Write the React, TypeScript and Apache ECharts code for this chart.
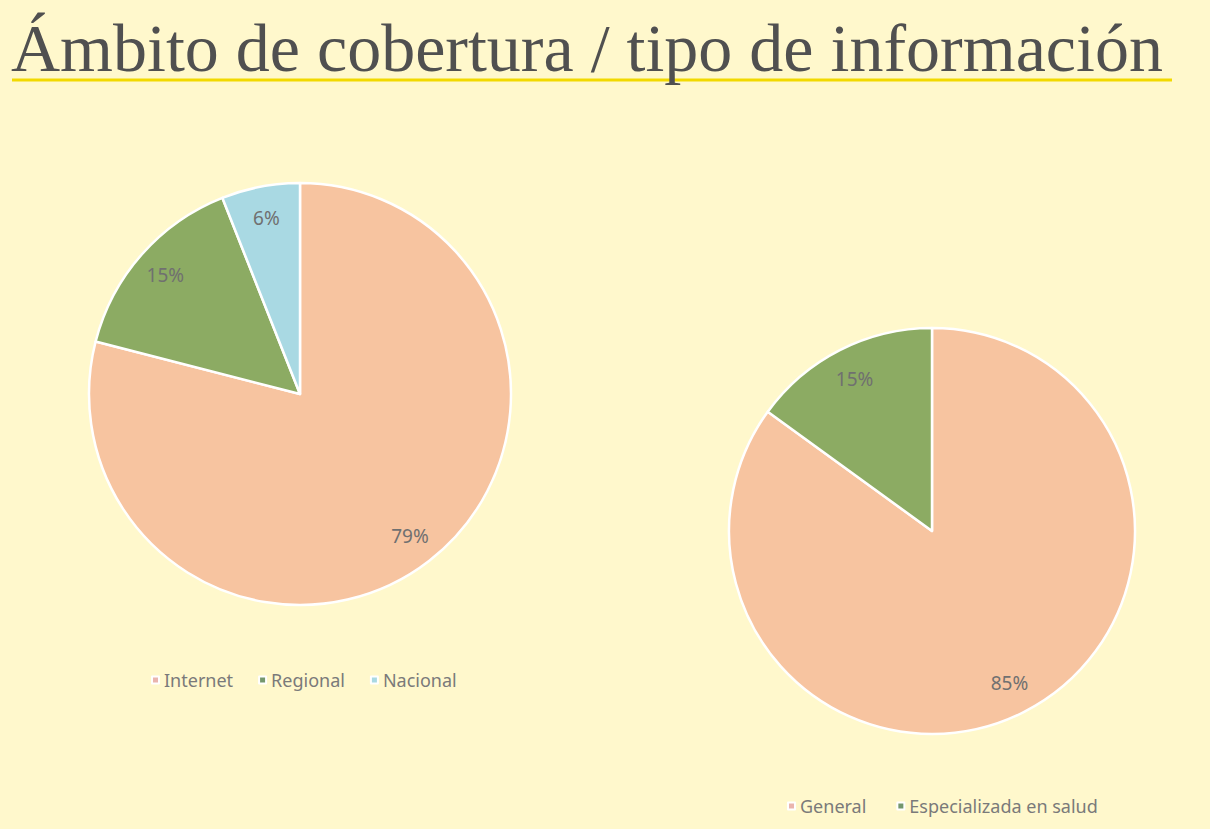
import React, { useEffect, useRef } from "react";
import * as echarts from "echarts";

const titleText = "Ámbito de cobertura / tipo de información";
const ambitoNames = ["Internet", "Regional", "Nacional"];
const ambitoValues = [79, 15, 6];
const ambitoColors = ["#f7c4a0", "#8cab63", "#a9d9e3"];
const ambitoLegendColors = ["#eab5ae", "#74976d", "#a9d9e3"];
const tipoNames = ["General", "Especializada en salud"];
const tipoValues = [85, 15];
const tipoColors = ["#f7c4a0", "#8cab63"];
const tipoLegendColors = ["#eab5ae", "#74976d"];

const BG = "#fff8cc";
const labelFont = "'Noto Sans', 'Open Sans', sans-serif";

function makePie(names: string[], values: number[], colors: string[], center: number[], r: number, r0label: number) {
  const data = names.map((n, i) => ({ name: n, value: values[i], itemStyle: { color: colors[i] } }));
  return [
    {
      type: "pie",
      center,
      radius: [0, r],
      startAngle: 90,
      clockwise: true,
      data,
      label: { show: false },
      labelLine: { show: false },
      itemStyle: { borderColor: "#ffffff", borderWidth: 2.5 },
      emphasis: { disabled: true },
      silent: true,
    },
    {
      type: "pie",
      center,
      radius: [r0label, r],
      startAngle: 90,
      clockwise: true,
      data: names.map((n, i) => ({ name: n, value: values[i], itemStyle: { color: "rgba(0,0,0,0)" } })),
      label: {
        show: true,
        position: "inside",
        formatter: "{c}%",
        color: "#707070",
        fontSize: 19,
        fontFamily: labelFont,
      },
      labelLine: { show: false },
      itemStyle: { borderWidth: 0 },
      emphasis: { disabled: true },
      silent: true,
      legendHoverLink: false,
    },
  ];
}

const legendText = { color: "#7a7a7a", fontSize: 18, fontFamily: labelFont };

export default function App() {
  const ref = useRef<HTMLDivElement>(null);
  useEffect(() => {
    document.body.style.margin = "0";
    document.body.style.background = BG;
    const chart = echarts.init(ref.current!, null, { renderer: "svg" });
    chart.setOption({
      animation: false,
      backgroundColor: BG,
      title: {
        text: titleText,
        left: 6,
        top: 9,
        textStyle: {
          fontFamily: "'Liberation Serif', 'DejaVu Serif', serif",
          fontWeight: "normal",
          fontSize: 68,
          color: "#505050",
        },
      },
      graphic: [
        {
          type: "line",
          shape: { x1: 12, y1: 80, x2: 1172, y2: 80 },
          style: { stroke: "#f2d900", lineWidth: 3 },
          silent: true,
        },
      ],
      legend: [
        {
          data: ambitoNames.map((n, i) => ({ name: n, itemStyle: { color: ambitoLegendColors[i] } })),
          left: 146,
          top: 666,
          icon: "rect",
          itemWidth: 7,
          itemHeight: 7,
          itemGap: 25,
          textStyle: legendText,
          selectedMode: false,
        },
        {
          data: tipoNames.map((n, i) => ({ name: n, itemStyle: { color: tipoLegendColors[i] } })),
          left: 782,
          top: 792,
          icon: "rect",
          itemWidth: 7,
          itemHeight: 7,
          itemGap: 30,
          textStyle: legendText,
          selectedMode: false,
        },
      ],
      series: [
        ...makePie(ambitoNames, ambitoValues, ambitoColors, [300, 394], 211, 142),
        ...makePie(tipoNames, tipoValues, tipoColors, [932, 531], 203, 132),
      ],
    });
    return () => chart.dispose();
  }, []);
  return <div ref={ref} style={{ width: 1210, height: 829 }} />;
}
